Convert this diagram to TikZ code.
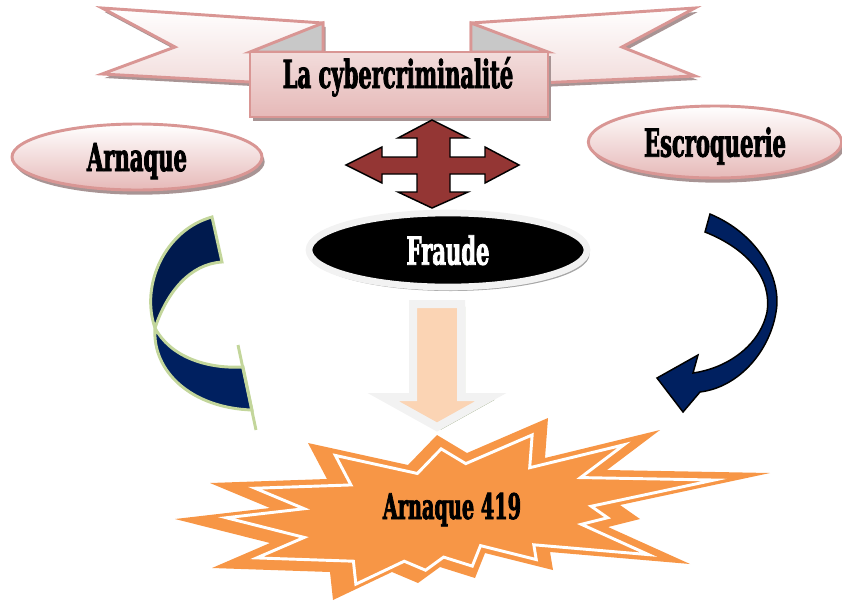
\documentclass[tikz,border=0pt]{standalone}
\usepackage{fontspec}
\usepackage{tikz}
\usetikzlibrary{shapes.geometric,shadows,positioning}
\newfontfamily\posterfont[FakeStretch=0.545,FakeBold=2]{DejaVu Serif Bold}

\definecolor{rosedge}{HTML}{D99694}
\definecolor{roselight}{HTML}{F2DCDB}
\definecolor{rosemid}{HTML}{E6B9B8}
\definecolor{roseshadow}{HTML}{A89494}
\definecolor{foldgray}{HTML}{C8C8C8}
\definecolor{brick}{HTML}{943634}
\definecolor{navy}{HTML}{002060}
\definecolor{navydark}{HTML}{001A4E}
\definecolor{sage}{HTML}{C3D69B}
\definecolor{peach}{HTML}{FBD4B4}
\definecolor{paper}{HTML}{F2F2F2}
\definecolor{mossshadow}{HTML}{A3B08E}
\definecolor{tangerine}{HTML}{F79646}

% star outline of the "Arnaque 419" burst
\def\burstpts{(175,519) -- (270,508) -- (210,483) -- (327,479) -- (308,443) -- (408,465)
  -- (437,435) -- (467,453) -- (548,418) -- (545,458) -- (660,430) -- (607,470)
  -- (770,473) -- (620,505) -- (640,519) -- (608,527) -- (690,564) -- (550,552)
  -- (553,570) -- (485,553) -- (475,578) -- (440,567) -- (418,583) -- (392,572)
  -- (333,600) -- (330,572) -- (212,568) -- (270,543)}

\begin{document}
\begin{tikzpicture}[
    x=0.75pt, y=-0.75pt,
    wing/.style={draw=rosedge, line width=2.2pt, top color=white, bottom color=roselight,
      drop shadow={shadow xshift=2pt, shadow yshift=-3pt, fill=roseshadow, opacity=1}},
    fold/.style={draw=rosedge, line width=2.2pt, fill=foldgray},
    bannerbox/.style={rectangle, draw=rosedge, line width=2.2pt, top color=roselight, bottom color=rosemid,
      inner sep=0pt, drop shadow={shadow xshift=2pt, shadow yshift=-3pt, fill=roseshadow, opacity=1}},
    oval/.style={ellipse, draw=rosedge, line width=2.2pt, top color=white, bottom color=rosemid,
      inner sep=0pt, text depth=0pt, font=\posterfont\fontsize{29}{32}\selectfont,
      drop shadow={shadow xshift=2pt, shadow yshift=-3.5pt, fill=roseshadow, opacity=1}},
    darkoval/.style={ellipse, fill=black, draw=paper, line width=5pt, inner sep=0pt, text depth=0pt,
      text=white, font=\posterfont\fontsize{29}{32}\selectfont,
      drop shadow={shadow xshift=2pt, shadow yshift=-3pt, fill=black!35, opacity=1}},
    crossarrow/.style={draw=black, line width=1.1pt, fill=brick},
    downarrow/.style={draw=paper, line width=6pt, fill=peach,
      drop shadow={shadow xshift=3pt, shadow yshift=-2pt, fill=mossshadow, opacity=1}},
    ribbon/.style={draw=sage, line width=2.2pt},
    curlarrow/.style={draw=black, line width=1.1pt, fill=navy},
    heading/.style={font=\posterfont\fontsize{29}{32}\selectfont, inner sep=0pt}
]
\useasboundingbox (0,0) rectangle (842,600);

% banner
\draw[wing] (102,8) -- (323,23) -- (323,86) -- (102,74) -- (175,47) -- cycle;
\draw[wing] (695,8) -- (471,23) -- (471,86) -- (695,76) -- (622,47) -- cycle;
\draw[fold] (323,23) -- (323,52) -- (250,52) -- cycle;
\draw[fold] (471,23) -- (471,52) -- (548,52) -- cycle;
\node[bannerbox, minimum width=223.5pt, minimum height=48.75pt] (banner) at (399,84.5) {};
\node[heading, anchor=base] (title) at (398,88) {La cybercriminalité};

% side ovals
\node[oval, minimum width=187.5pt, minimum height=49.5pt] (arnaque) at (137,157) {Arnaque};
\node[oval, minimum width=190pt, minimum height=54pt] (escroquerie) at (715,142) {Escroquerie};

% four-way arrow
\draw[crossarrow] (432,120) -- (468,138) -- (450,138) -- (450,157) -- (485,157) -- (485,147)
  -- (519,165) -- (485,183) -- (485,174) -- (450,174) -- (450,192) -- (468,192)
  -- (432,208) -- (398,192) -- (417,192) -- (417,174) -- (382,174) -- (382,183)
  -- (346,165) -- (382,147) -- (382,157) -- (417,157) -- (417,138) -- (398,138) -- cycle;

\node[darkoval, minimum width=208.5pt, minimum height=55.5pt] (fraude) at (448,250) {Fraude};

% block arrow down
\draw[downarrow] (413,304) -- (461,304) -- (461,397) -- (491,397) -- (437,427)
  -- (383,397) -- (413,397) -- cycle;

% twisted ribbon on the left
\draw[ribbon, fill=navydark] (212,217) .. controls (165,230) and (140,285) .. (155,328)
  .. controls (167,292) and (190,264) .. (222,262) -- cycle;
\draw[ribbon, fill=navy] (155,328) .. controls (152,372) and (192,408) .. (252,410)
  -- (243,367) .. controls (205,369) and (170,356) .. (155,328) -- cycle;
\draw[ribbon] (238,345) -- (256,430);

% curved arrow on the right
\draw[curlarrow] (710,214) .. controls (760,235) and (782,280) .. (776,312)
  .. controls (770,350) and (740,387) .. (700,392) -- (683,412) -- (657,378)
  -- (698,355) -- (693,373) .. controls (728,368) and (760,345) .. (767,312)
  .. controls (772,280) and (750,250) .. (705,232) -- cycle;

% burst
\fill[tangerine] \burstpts -- cycle;
\draw[white, line width=2.2pt, scale around={0.82:(460,512)}] \burstpts -- cycle;
\node[heading, anchor=base] (arnaque419) at (452,519) {\fontsize{26.5}{29}\selectfont Arnaque 419};
\end{tikzpicture}
\end{document}
